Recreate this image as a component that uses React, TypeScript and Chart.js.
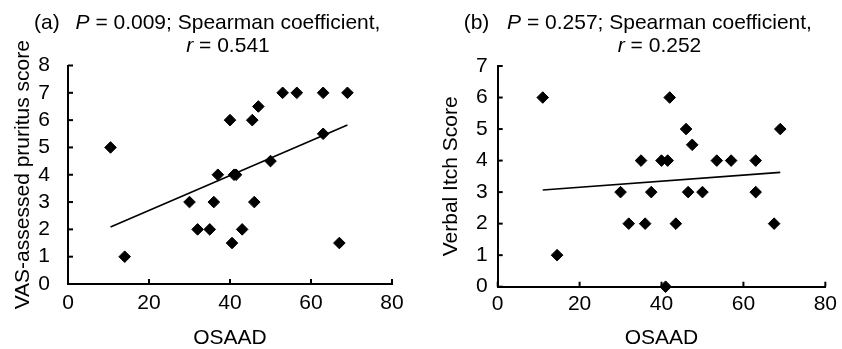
import React, { useEffect, useRef } from 'react';
import { Chart, registerables } from 'chart.js';

Chart.register(...registerables);

const FONT = '"Liberation Sans", Arial, Helvetica, sans-serif';

// Panel (a): OSAAD vs VAS-assessed pruritus score
const osaadA = [10.5, 14, 30, 32, 35, 36, 37, 40, 40.5, 41, 41.5, 43, 45.5, 46, 47, 50, 53, 56.5, 63, 63, 67, 69];
const vasScore = [5, 1, 3, 2, 2, 3, 4, 6, 1.5, 4, 4, 2, 6, 3, 6.5, 4.5, 7, 7, 7, 5.5, 1.5, 7];

// Panel (b): OSAAD vs Verbal Itch Score
const osaadB = [11, 14.5, 30, 32, 35, 36, 37.5, 40, 41, 41.5, 42, 43.5, 46, 46.5, 47.5, 50, 53.5, 57, 63, 63, 67.5, 69];
const verbalScore = [6, 1, 3, 2, 4, 2, 3, 4, 0, 4, 6, 2, 5, 3, 4.5, 3, 4, 4, 4, 3, 2, 5];

// Tick labels
const xTicks = [0, 20, 40, 60, 80];
const yTicksA = [0, 1, 2, 3, 4, 5, 6, 7, 8];
const yTicksB = [0, 1, 2, 3, 4, 5, 6, 7];

// Titles
const panelLabels = ['(a)', '(b)'];
const pValues = ['0.009', '0.257'];
const rValues = ['0.541', '0.252'];
const yTitles = ['VAS-assessed pruritus score', 'Verbal Itch Score'];
const xTitle = 'OSAAD';

function linFit(xs: number[], ys: number[]) {
  const n = xs.length;
  const mx = xs.reduce((a, b) => a + b, 0) / n;
  const my = ys.reduce((a, b) => a + b, 0) / n;
  let sxy = 0;
  let sxx = 0;
  for (let i = 0; i < n; i++) {
    sxy += (xs[i] - mx) * (ys[i] - my);
    sxx += (xs[i] - mx) * (xs[i] - mx);
  }
  const slope = sxy / sxx;
  const icpt = my - slope * mx;
  const x0 = Math.min(...xs);
  const x1 = Math.max(...xs);
  return [
    { x: x0, y: icpt + slope * x0 },
    { x: x1, y: icpt + slope * x1 },
  ];
}

const inwardTicks = {
  id: 'inwardTicks',
  afterDraw(chart: any) {
    const { ctx, chartArea, scales } = chart;
    ctx.save();
    ctx.strokeStyle = '#000';
    ctx.lineWidth = 2;
    const len = 5;
    scales.x.ticks.forEach((t: any) => {
      const px = scales.x.getPixelForValue(t.value);
      ctx.beginPath();
      ctx.moveTo(px, chartArea.bottom);
      ctx.lineTo(px, chartArea.bottom - len);
      ctx.stroke();
    });
    scales.y.ticks.forEach((t: any) => {
      const py = scales.y.getPixelForValue(t.value);
      ctx.beginPath();
      ctx.moveTo(chartArea.left, py);
      ctx.lineTo(chartArea.left + len, py);
      ctx.stroke();
    });
    ctx.restore();
  },
};

const titlePlugin = {
  id: 'panelTitle',
  afterDraw(chart: any, _args: any, opts: any) {
    const { ctx, chartArea } = chart;
    const cx = (chartArea.left + chartArea.right) / 2 - 2;
    const size = 21;
    const italic = `italic ${size}px ${FONT}`;
    const normal = `${size}px ${FONT}`;
    ctx.save();
    ctx.fillStyle = '#000';
    ctx.textBaseline = 'middle';
    ctx.textAlign = 'left';
    // line 1
    const rest1 = ` = ${opts.p}; Spearman coefficient,`;
    ctx.font = italic;
    const wP = ctx.measureText('P').width;
    ctx.font = normal;
    const wRest1 = ctx.measureText(rest1).width;
    const start1 = cx - (wP + wRest1) / 2;
    const y1 = 23.5;
    ctx.font = normal;
    ctx.fillText(opts.label, chartArea.left - 34, y1);
    ctx.font = italic;
    ctx.fillText('P', start1, y1);
    ctx.font = normal;
    ctx.fillText(rest1, start1 + wP, y1);
    // line 2
    const rest2 = ` = ${opts.r}`;
    ctx.font = italic;
    const wr = ctx.measureText('r').width;
    ctx.font = normal;
    const wRest2 = ctx.measureText(rest2).width;
    const start2 = cx - (wr + wRest2) / 2;
    const y2 = 46;
    ctx.font = italic;
    ctx.fillText('r', start2, y2);
    ctx.font = normal;
    ctx.fillText(rest2, start2 + wr, y2);
    ctx.restore();
  },
};

type PanelProps = {
  idx: number;
  xs: number[];
  ys: number[];
  yTicks: number[];
  yWidth: number;
  padRight: number;
  padTop: number;
  xHeight: number;
  yTickPad: number;
  xTickPad: number;
  yTitlePad: number;
};

function Panel(p: PanelProps) {
  const ref = useRef<HTMLCanvasElement>(null);
  useEffect(() => {
    if (!ref.current) return;
    const pts = p.xs.map((x, i) => ({ x, y: p.ys[i] }));
    const fit = linFit(p.xs, p.ys);
    const tickFont = { family: FONT, size: 21, lineHeight: 1.2 };
    const chart = new Chart(ref.current, {
      type: 'scatter',
      data: {
        datasets: [
          {
            data: pts,
            pointStyle: 'rectRot',
            pointRadius: 5.8,
            pointBackgroundColor: '#000',
            pointBorderColor: '#000',
            pointBorderWidth: 1,
            clip: false,
          } as any,
          {
            data: fit,
            showLine: true,
            borderColor: '#000',
            borderWidth: 1.6,
            pointRadius: 0,
            fill: false,
          } as any,
        ],
      },
      options: {
        responsive: false,
        animation: false,
        layout: { padding: { left: 0, right: p.padRight, top: p.padTop, bottom: 0 } },
        plugins: {
          legend: { display: false },
          tooltip: { enabled: false },
          panelTitle: { label: panelLabels[p.idx], p: pValues[p.idx], r: rValues[p.idx] },
        } as any,
        scales: {
          x: {
            type: 'linear',
            min: xTicks[0],
            max: xTicks[xTicks.length - 1],
            afterBuildTicks: (s: any) => {
              s.ticks = xTicks.map((v) => ({ value: v }));
            },
            afterFit: (s: any) => {
              s.height = p.xHeight;
            },
            grid: { display: false, drawTicks: false },
            border: { display: true, color: '#000', width: 2 },
            ticks: { color: '#000', font: tickFont, padding: p.xTickPad, maxRotation: 0, autoSkip: false },
            title: {
              display: true,
              text: xTitle,
              color: '#000',
              font: { family: FONT, size: 21, lineHeight: 1 },
              padding: 0,
            },
          },
          y: {
            type: 'linear',
            min: p.yTicks[0],
            max: p.yTicks[p.yTicks.length - 1],
            afterBuildTicks: (s: any) => {
              s.ticks = p.yTicks.map((v) => ({ value: v }));
            },
            afterFit: (s: any) => {
              s.width = p.yWidth;
            },
            grid: { display: false, drawTicks: false },
            border: { display: true, color: '#000', width: 2 },
            ticks: { color: '#000', font: tickFont, padding: p.yTickPad, autoSkip: false },
            title: {
              display: true,
              text: yTitles[p.idx],
              color: '#000',
              font: { family: FONT, size: 21, lineHeight: 1.2 },
              padding: { top: p.yTitlePad, bottom: 0 },
            },
          },
        },
      } as any,
      plugins: [inwardTicks, titlePlugin],
    });
    return () => chart.destroy();
  }, []);
  return <canvas ref={ref} width={421} height={349} style={{ display: 'block', width: 421, height: 349 }} />;
}

export default function App() {
  return (
    <div style={{ position: 'absolute', left: 0, top: 0, width: 842, height: 349, background: '#fff', display: 'flex' }}>
      <Panel idx={0} xs={osaadA} ys={vasScore} yTicks={yTicksA} yWidth={68} padRight={29} padTop={65.5} xHeight={65} yTickPad={18} xTickPad={7} yTitlePad={11} />
      <Panel idx={1} xs={osaadB} ys={verbalScore} yTicks={yTicksB} yWidth={76.7} padRight={15.3} padTop={66} xHeight={62.3} yTickPad={10} xTickPad={5} yTitlePad={17.4} />
    </div>
  );
}
